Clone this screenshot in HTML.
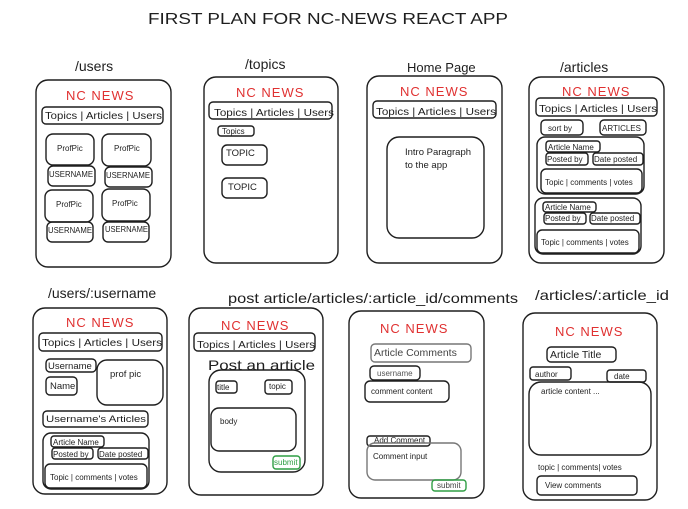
<!DOCTYPE html>
<html><head><meta charset="utf-8"><style>
html,body{margin:0;padding:0;background:#fff}
svg{display:block}
text{font-family:"Liberation Sans",sans-serif;fill:#1e1e1e}
.r{fill:none;stroke:#1e1e1e;stroke-width:1.4}
.g{fill:none;stroke:#777;stroke-width:1.4}
.gr{fill:none;stroke:#2f9e44;stroke-width:1.4}
.nc{fill:#e03131;font-size:13px;letter-spacing:1px}
.nav{font-size:10.5px}
.s{font-size:8px}
.m{font-size:9.5px}
.t{font-size:14px}
</style></head><body>
<svg width="688" height="509" viewBox="0 0 688 509">
<text x="148" y="24" font-size="16" textLength="360" lengthAdjust="spacingAndGlyphs">FIRST PLAN FOR NC-NEWS REACT APP</text>

<!-- /users -->
<text class="t" x="75" y="71">/users</text>
<rect class="r" x="36" y="80" width="135" height="187" rx="12"/>
<text class="nc" x="66" y="100">NC NEWS</text>
<rect class="r" x="42" y="107" width="121" height="17" rx="4"/>
<text class="nav" x="45" y="119" textLength="117" lengthAdjust="spacingAndGlyphs">Topics | Articles | Users</text>
<rect class="r" x="46" y="134" width="48" height="31" rx="7"/><text class="s" x="57" y="151">ProfPic</text>
<rect class="r" x="48" y="166" width="47" height="20" rx="5"/><text class="s" x="49" y="177" textLength="44" lengthAdjust="spacingAndGlyphs">USERNAME</text>
<rect class="r" x="102" y="134" width="49" height="32" rx="7"/><text class="s" x="114" y="151">ProfPic</text>
<rect class="r" x="105" y="167" width="47" height="20" rx="5"/><text class="s" x="106" y="178" textLength="44" lengthAdjust="spacingAndGlyphs">USERNAME</text>
<rect class="r" x="45" y="190" width="48" height="32" rx="7"/><text class="s" x="56" y="207">ProfPic</text>
<rect class="r" x="47" y="222" width="46" height="20" rx="5"/><text class="s" x="48" y="233" textLength="44" lengthAdjust="spacingAndGlyphs">USERNAME</text>
<rect class="r" x="102" y="189" width="48" height="32" rx="7"/><text class="s" x="112" y="206">ProfPic</text>
<rect class="r" x="103" y="222" width="46" height="20" rx="5"/><text class="s" x="105" y="232" textLength="43" lengthAdjust="spacingAndGlyphs">USERNAME</text>

<!-- /topics -->
<text class="t" x="245" y="69">/topics</text>
<rect class="r" x="204" y="77" width="134" height="186" rx="12"/>
<text class="nc" x="236" y="97">NC NEWS</text>
<rect class="r" x="209" y="102" width="123" height="17" rx="4"/>
<text class="nav" x="214" y="116" textLength="120" lengthAdjust="spacingAndGlyphs">Topics | Articles | Users</text>
<rect class="r" x="218" y="126" width="36" height="10" rx="3"/><text class="s" x="222" y="134">Topics</text>
<rect class="r" x="222" y="145" width="45" height="20" rx="5"/><text class="m" x="226" y="156">TOPIC</text>
<rect class="r" x="222" y="178" width="45" height="20" rx="5"/><text class="m" x="228" y="190">TOPIC</text>

<!-- Home -->
<text x="407" y="72" font-size="13">Home Page</text>
<rect class="r" x="367" y="76" width="135" height="187" rx="12"/>
<text class="nc" x="400" y="96">NC NEWS</text>
<rect class="r" x="373" y="101" width="123" height="17" rx="4"/>
<text class="nav" x="376" y="115" textLength="120" lengthAdjust="spacingAndGlyphs">Topics | Articles | Users</text>
<rect class="r" x="387" y="137" width="97" height="101" rx="12"/>
<text class="m" x="405" y="155">Intro Paragraph</text>
<text class="m" x="405" y="168">to the app</text>

<!-- /articles -->
<text class="t" x="560" y="72">/articles</text>
<rect class="r" x="529" y="77" width="135" height="186" rx="12"/>
<text class="nc" x="562" y="96">NC NEWS</text>
<rect class="r" x="536" y="98" width="121" height="18" rx="4"/>
<text class="nav" x="539" y="112" textLength="118" lengthAdjust="spacingAndGlyphs">Topics | Articles | Users</text>
<rect class="r" x="541" y="120" width="42" height="15" rx="4"/><text class="s" x="548" y="131">sort by</text>
<rect class="r" x="600" y="120" width="46" height="15" rx="4"/><text class="s" x="602" y="131">ARTICLES</text>
<rect class="r" x="537" y="137" width="107" height="57" rx="8"/>
<rect class="r" x="546" y="141" width="54" height="11" rx="3"/><text class="s" x="548" y="150">Article Name</text>
<rect class="r" x="546" y="153" width="42" height="12" rx="3"/><text class="s" x="547" y="162">Posted by</text>
<rect class="r" x="593" y="153" width="50" height="12" rx="3"/><text class="s" x="594" y="162">Date posted</text>
<rect class="r" x="541" y="169" width="101" height="24" rx="5"/><text class="s" x="545" y="185">Topic | comments | votes</text>
<rect class="r" x="535" y="198" width="106" height="56" rx="8"/>
<rect class="r" x="543" y="202" width="53" height="10" rx="3"/><text class="s" x="545" y="210">Article Name</text>
<rect class="r" x="544" y="213" width="42" height="11" rx="3"/><text class="s" x="545" y="221">Posted by</text>
<rect class="r" x="590" y="213" width="50" height="11" rx="3"/><text class="s" x="591" y="221">Date posted</text>
<rect class="r" x="537" y="230" width="102" height="23" rx="5"/><text class="s" x="541" y="245">Topic | comments | votes</text>

<!-- /users/:username -->
<text class="t" x="48" y="298">/users/:username</text>
<rect class="r" x="33" y="308" width="134" height="186" rx="12"/>
<text class="nc" x="66" y="327">NC NEWS</text>
<rect class="r" x="39" y="333" width="123" height="18" rx="4"/>
<text class="nav" x="42" y="346" textLength="120" lengthAdjust="spacingAndGlyphs">Topics | Articles | Users</text>
<rect class="r" x="46" y="359" width="50" height="13" rx="4"/><text class="m" x="48" y="369">Username</text>
<rect class="r" x="46" y="377" width="31" height="18" rx="4"/><text class="m" x="50" y="389">Name</text>
<rect class="r" x="97" y="360" width="66" height="45" rx="10"/><text class="m" x="110" y="377">prof pic</text>
<rect class="r" x="43" y="411" width="105" height="16" rx="4"/><text class="m" x="46" y="422" textLength="100" lengthAdjust="spacingAndGlyphs">Username's Articles</text>
<rect class="r" x="43" y="433" width="106" height="56" rx="8"/>
<rect class="r" x="51" y="436" width="53" height="11" rx="3"/><text class="s" x="53" y="445">Article Name</text>
<rect class="r" x="52" y="448" width="41" height="11" rx="3"/><text class="s" x="53" y="457">Posted by</text>
<rect class="r" x="98" y="448" width="50" height="11" rx="3"/><text class="s" x="99" y="457">Date posted</text>
<rect class="r" x="45" y="464" width="102" height="24" rx="5"/><text class="s" x="50" y="480">Topic | comments | votes</text>

<!-- post article -->
<text class="t" x="228" y="303" textLength="290" lengthAdjust="spacingAndGlyphs">post article/articles/:article_id/comments</text>
<rect class="r" x="189" y="308" width="134" height="187" rx="12"/>
<text class="nc" x="221" y="330">NC NEWS</text>
<rect class="r" x="194" y="333" width="121" height="18" rx="4"/>
<text class="nav" x="197" y="348" textLength="118" lengthAdjust="spacingAndGlyphs">Topics | Articles | Users</text>
<text x="208" y="370" font-size="14" textLength="107" lengthAdjust="spacingAndGlyphs">Post an article</text>
<rect class="r" x="209" y="370" width="96" height="102" rx="12"/>
<rect class="r" x="216" y="381" width="21" height="12" rx="3"/><text class="s" x="217" y="390">title</text>
<rect class="r" x="265" y="380" width="27" height="14" rx="3"/><text class="s" x="269" y="389">topic</text>
<rect class="r" x="211" y="408" width="85" height="43" rx="8"/><text class="s" x="220" y="424">body</text>
<rect class="gr" x="273" y="456" width="27" height="13" rx="3"/><text class="s" x="274" y="465" style="fill:#2f9e44">submit</text>

<!-- comments -->
<rect class="r" x="349" y="311" width="135" height="187" rx="12"/>
<text class="nc" x="380" y="333">NC NEWS</text>
<rect class="g" x="371" y="344" width="100" height="18" rx="4"/><text x="374" y="356" font-size="10.5" fill="#444" style="fill:#444">Article Comments</text>
<rect class="r" x="370" y="366" width="50" height="14" rx="4"/><text class="s" x="377" y="376" style="fill:#555">username</text>
<rect class="r" x="365" y="381" width="84" height="21" rx="5"/><text class="s" x="371" y="394">comment content</text>
<rect class="r" x="367" y="436" width="63" height="10" rx="3"/><text class="s" x="374" y="443">Add Comment</text>
<rect class="g" x="367" y="443" width="94" height="37" rx="8"/><text class="s" x="373" y="459">Comment input</text>
<rect class="gr" x="432" y="480" width="34" height="11" rx="3"/><text class="s" x="437" y="488" style="fill:#444">submit</text>

<!-- /articles/:article_id -->
<text class="t" x="535" y="300" textLength="134" lengthAdjust="spacingAndGlyphs">/articles/:article_id</text>
<rect class="r" x="523" y="313" width="134" height="187" rx="12"/>
<text class="nc" x="555" y="336">NC NEWS</text>
<rect class="r" x="547" y="347" width="69" height="15" rx="4"/><text x="550" y="358" font-size="10.5">Article Title</text>
<rect class="r" x="530" y="367" width="41" height="13" rx="3"/><text class="s" x="535" y="377">author</text>
<rect class="r" x="607" y="370" width="39" height="12" rx="3"/><text class="s" x="614" y="379">date</text>
<rect class="r" x="529" y="382" width="122" height="73" rx="12"/><text class="s" x="541" y="394">article content ...</text>
<text class="s" x="538" y="470">topic | comments| votes</text>
<rect class="r" x="537" y="476" width="100" height="19" rx="4"/><text class="s" x="545" y="488">View comments</text>
</svg>
</body></html>
